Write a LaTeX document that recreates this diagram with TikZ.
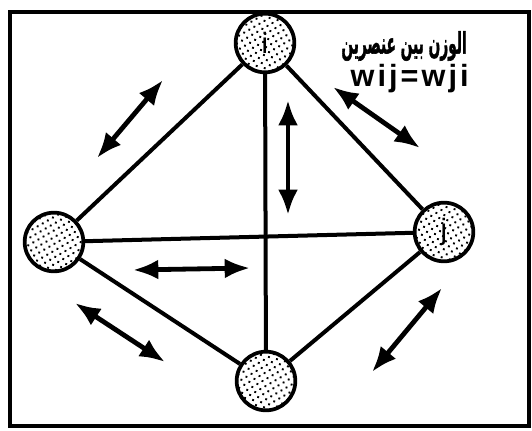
\documentclass[tikz,border=0pt]{standalone}
\usepackage{fontspec}
\usepackage{graphicx}
\setmainfont{Liberation Sans}
\newfontfamily\arabicfont[Script=Arabic,FakeBold=2]{DejaVu Sans}
\TeXXeTstate=1
\usetikzlibrary{arrows.meta,patterns.meta}
\tikzdeclarepattern{
  name=sdots,
  type=uncolored,
  bounding box={(-1.5pt,-1.5pt) and (1.5pt,1.5pt)},
  tile size={(4.4pt,4.4pt)},
  tile transformation={rotate=30},
  code={\fill (0pt,0pt) circle (1pt);}
}
\begin{document}
\begin{tikzpicture}[x=0.75pt,y=-0.75pt,
  unit/.style={circle,draw,line width=2.8pt,minimum size=44pt,inner sep=0pt,
    pattern=sdots,pattern color=black},
  lbl/.style={font=\fontsize{22pt}{24pt}\selectfont},
  edgeline/.style={line width=3pt},
  darrow/.style={line width=3.6pt,{Latex[length=19pt,width=15pt]}-{Latex[length=19pt,width=15pt]}},
  frame/.style={line width=3.2pt}]
\useasboundingbox (0,0) rectangle (532,431);
\draw[frame] (10,12) rectangle (529,426);
\node[unit] (ti) at (265,43) {};
\node[unit] (le) at (54,242) {};
\node[unit] (rj) at (444,232) {};
\node[unit] (bo) at (266,381) {};
\node[lbl] (til) at (ti) {i};
\node[lbl] (rjl) at (rj) {j};
\draw[edgeline] (ti) -- (le);
\draw[edgeline] (ti) -- (rj);
\draw[edgeline] (le) -- (bo);
\draw[edgeline] (bo) -- (rj);
\draw[edgeline] (le) -- (rj);
\draw[edgeline] (ti) -- (bo);
\coordinate (a1s) at (97,158); \coordinate (a1e) at (163,80);
\coordinate (a2s) at (333,87); \coordinate (a2e) at (420,148);
\coordinate (a3s) at (288,100); \coordinate (a3e) at (288,215);
\coordinate (a4s) at (133,270); \coordinate (a4e) at (250,268);
\coordinate (a5s) at (75,303); \coordinate (a5e) at (165,362);
\coordinate (a6s) at (442,288); \coordinate (a6e) at (372,372);
\draw[darrow] (a1s) -- (a1e);
\draw[darrow] (a2s) -- (a2e);
\draw[darrow] (a3s) -- (a3e);
\draw[darrow] (a4s) -- (a4e);
\draw[darrow] (a5s) -- (a5e);
\draw[darrow] (a6s) -- (a6e);
\node[anchor=east,inner sep=0pt] (ar) at (467,46) {\resizebox{94pt}{1.3\height}{\arabicfont\bfseries\fontsize{17pt}{20pt}\selectfont\beginR الوزن بين عنصرين\endR}};
\node[anchor=east,inner sep=0pt] (eq) at (469,79) {\bfseries\fontsize{23pt}{26pt}\selectfont\addfontfeature{LetterSpace=10}wij=wji};
\end{tikzpicture}
\end{document}
